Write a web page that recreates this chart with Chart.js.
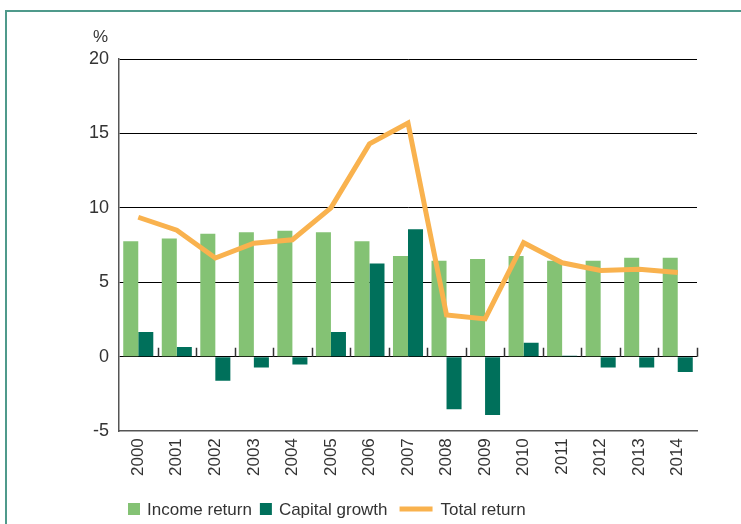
<!DOCTYPE html>
<html>
<head>
<meta charset="utf-8">
<script src="https://cdn.jsdelivr.net/npm/chart.js@4.4.0/dist/chart.umd.min.js"></script>
<style>
  html, body { margin: 0; padding: 0; background: #fff; }
  #wrap { position: relative; width: 741px; height: 524px; overflow: hidden; }
  #frame { position: absolute; left: 5px; top: 10px; width: 900px; height: 700px;
           border-top: 2px solid #4f9a8b; border-left: 2px solid #4f9a8b; }
  #myChart { position: absolute; left: 0; top: 0; }
</style>
</head>
<body>
<div id="wrap">
  <div id="frame"></div>
  <canvas id="myChart" width="741" height="524"></canvas>
</div>
<script>
// data
var years = ["2000","2001","2002","2003","2004","2005","2006","2007","2008","2009","2010","2011","2012","2013","2014"];
var incomeReturn = [7.75, 7.95, 8.27, 8.36, 8.47, 8.36, 7.75, 6.76, 6.45, 6.56, 6.76, 6.45, 6.45, 6.65, 6.65];
var capitalGrowth = [1.66, 0.65, -1.62, -0.72, -0.52, 1.66, 6.27, 8.56, -3.53, -3.91, 0.94, 0.07, -0.72, -0.72, -1.03];
var totalReturn = [9.37, 8.5, 6.63, 7.63, 7.86, 10.0, 14.3, 15.7, 2.81, 2.54, 7.66, 6.31, 5.8, 5.88, 5.66];

var FONT = "'Liberation Sans', Arial, sans-serif";

// "%" above the y axis, the little ticks on the zero line and the legend
var extras = {
	id: "extras",
	afterDraw: function(chart){
		var ctx = chart.ctx, x = chart.scales.x, y = chart.scales.y;
		var area = chart.chartArea;
		ctx.save();
		ctx.fillStyle = "#333";
		ctx.font = "17px " + FONT;
		ctx.textAlign = "right";
		ctx.textBaseline = "middle";
		ctx.fillText("%", area.left - 11, area.top - 22);

		var y0 = y.getPixelForValue(0);
		var half = (x.getPixelForValue(1) - x.getPixelForValue(0)) / 2;
		ctx.strokeStyle = "#333";
		ctx.lineWidth = 1.5;
		for (var i = 0; i < years.length; i++) {
			var px = Math.round(x.getPixelForValue(i) + half) + 0.5;
			ctx.beginPath();
			ctx.moveTo(px, y0);
			ctx.lineTo(px, y0 - 9);
			ctx.stroke();
		}

		// legend
		var lx = area.left + 9, ly = 509;
		ctx.font = "17px " + FONT;
		ctx.textAlign = "left";
		chart.data.datasets.forEach(function(ds){
			if (ds.type === "line") {
				ctx.fillStyle = ds.borderColor;
				lx += 4;
				ctx.fillRect(lx, ly - 2.5, 33, 5);
				lx += 41;
			} else {
				ctx.fillStyle = ds.backgroundColor;
				ctx.fillRect(lx, ly - 6, 12, 12);
				lx += 19;
			}
			ctx.fillStyle = "#333";
			ctx.fillText(ds.label, lx, ly + 1);
			lx += ctx.measureText(ds.label).width + 8;
		});
		ctx.restore();
	}
};

var chart = new Chart(document.getElementById("myChart"), {
	type: "bar",
	data: {
		labels: years,
		datasets: [{
			label: "Income return",
			data: incomeReturn,
			backgroundColor: "#84c274",
			categoryPercentage: 0.78,
			barPercentage: 1.0,
			order: 1
		}, {
			label: "Capital growth",
			data: capitalGrowth,
			backgroundColor: "#00705b",
			categoryPercentage: 0.78,
			barPercentage: 1.0,
			order: 1
		}, {
			type: "line",
			label: "Total return",
			data: totalReturn,
			borderColor: "#f9b24e",
			backgroundColor: "#f9b24e",
			borderWidth: 5,
			pointRadius: 0,
			tension: 0,
			order: 0
		}]
	},
	options: {
		responsive: false,
		animation: false,
		layout: { padding: { left: 89, right: 44, top: 59, bottom: 41 } },
		plugins: {
			tooltip: { enabled: false },
			legend: { display: false }
		},
		scales: {
			x: {
				grid: { display: false, drawTicks: false },
				border: { color: "#555", width: 1.5 },
				ticks: {
					autoSkip: false,
					maxRotation: 90,
					minRotation: 90,
					padding: 7,
					color: "#333",
					font: { size: 17, family: FONT }
				}
			},
			y: {
				min: -5,
				max: 20,
				afterFit: function(scale){ scale.width = 30; },
				grid: {
					drawTicks: false,
					color: function(c){ return c.tick && c.tick.value === -5 ? "rgba(0,0,0,0)" : "#000"; },
					lineWidth: 1
				},
				border: { color: "#555", width: 1.5 },
				ticks: {
					stepSize: 5,
					padding: 10,
					color: "#333",
					font: { size: 18, family: FONT }
				}
			}
		}
	},
	plugins: [extras]
});
</script>
</body>
</html>
